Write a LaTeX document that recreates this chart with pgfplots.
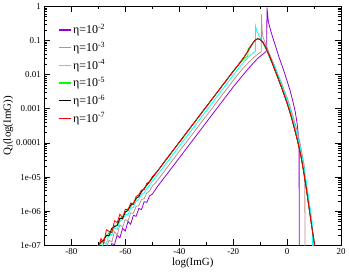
\documentclass[border=0pt]{standalone}
\usepackage{fontspec}
\setmainfont{Liberation Serif}
\usepackage{pgfplots}
\usepackage{pgfplotstable}
\pgfplotsset{compat=1.18}
\definecolor{cviolet}{RGB}{148,0,211}
\definecolor{cbrown}{RGB}{188,143,143}
\definecolor{ccyan}{RGB}{0,255,255}
\definecolor{cgreen}{RGB}{0,255,0}
\definecolor{cred}{RGB}{255,0,0}

% columns: x = log(ImG), ly = log10 of Q_I
\pgfplotstableread{
x ly
-65.5 -7.10
-65 -6.95
-64 -6.98
-63 -6.70
-62 -6.78
-61 -6.50
-60 -6.58
-59 -6.30
-58 -6.38
-57 -6.12
-56 -6.15
-55 -5.92
-54 -5.95
-53 -5.72
-52 -5.74
-51 -5.55
-50 -5.50
-48 -5.27
-45 -4.96
-40 -4.44
-35 -3.92
-30 -3.40
-25 -2.88
-20 -2.36
-17 -2.07
-15 -1.88
-13 -1.70
-11 -1.53
-9 -1.40
-7.6 -1.31
-7.5 -0.03
-7 -0.45
-6 -0.75
-5 -1.00
-4 -1.25
-3 -1.50
-2 -1.72
-1 -1.95
0 -2.20
1 -2.45
2 -2.75
3 -3.10
3.7 -3.45
4.2 -3.85
4.4 -4.00
4.45 -7.30
}\dataA

\pgfplotstableread{
x ly
-67 -7.06
-66 -6.85
-65 -6.90
-64 -6.60
-63 -6.70
-62 -6.40
-61 -6.47
-60 -6.25
-59 -6.28
-58 -6.05
-57 -6.06
-56 -5.86
-55 -5.84
-54 -5.66
-53 -5.63
-52 -5.46
-51 -5.41
-50 -5.27
-48 -5.09
-45 -4.77
-40 -4.25
-35 -3.73
-30 -3.21
-25 -2.69
-20 -2.17
-18 -1.97
-16 -1.78
-14 -1.62
-12 -1.47
-10.5 -1.38
-9.6 -1.33
-9.55 -0.24
-9.3 -0.70
-9 -0.90
-8 -1.10
-7 -1.30
-6 -1.50
-5 -1.68
-4 -1.88
-3 -2.07
-2 -2.27
-1 -2.48
0 -2.68
1 -2.92
2 -3.18
3 -3.45
4 -3.75
5 -4.10
5.8 -4.45
6.5 -4.75
6.6 -7.30
}\dataB

\pgfplotstableread{
x ly
-69 -7.10
-68 -6.91
-67 -6.96
-66 -6.65
-65 -6.70
-64 -6.47
-63 -6.53
-62 -6.29
-61 -6.25
-60 -6.10
-59 -6.10
-58 -5.91
-57 -5.89
-56 -5.71
-55 -5.66
-54 -5.51
-53 -5.47
-52 -5.32
-51 -5.24
-50 -5.12
-48 -4.93
-45 -4.62
-40 -4.10
-35 -3.58
-30 -3.06
-25 -2.54
-20 -2.02
-18 -1.81
-16 -1.63
-14 -1.46
-13 -1.39
-12 -1.33
-11.8 -1.31
-11.75 -0.58
-11.3 -0.72
-10.5 -0.85
-10 -0.92
-9 -1.08
-8 -1.24
-7 -1.42
-6 -1.62
-5 -1.70
-4 -1.90
-3 -2.11
-2 -2.32
-1 -2.53
0 -2.76
1 -3.00
2 -3.26
3 -3.56
4 -3.87
5 -4.21
6 -4.62
7 -5.10
8 -5.63
9 -6.18
9.3 -6.35
9.35 -7.30
}\dataC

\pgfplotstableread{
x ly
-71 -7.10
-70 -7.00
-69 -6.95
-68 -6.80
-67 -6.75
-66 -6.62
-65 -6.60
-64 -6.42
-63 -6.40
-62 -6.25
-61 -6.15
-60 -6.05
-59 -5.92
-58 -5.88
-57 -5.74
-56 -5.66
-55 -5.52
-54 -5.45
-53 -5.32
-52 -5.25
-51 -5.12
-50 -5.03
-48 -4.82
-45 -4.51
-40 -3.99
-35 -3.47
-30 -2.95
-25 -2.43
-20 -1.91
-18 -1.72
-16 -1.53
-15 -1.48
-14.6 -1.46
-14.5 -1.25
-14 -1.20
-13 -1.10
-12 -1.00
-11 -0.95
-10 -0.97
-9 -1.05
-8 -1.20
-7 -1.38
-6 -1.57
-5 -1.78
-4 -1.98
-3 -2.19
-2 -2.40
-1 -2.62
0 -2.85
1 -3.10
2 -3.38
3 -3.68
4 -4.00
5 -4.35
6 -4.80
7 -5.30
8 -5.85
9 -6.40
9.8 -6.80
9.85 -7.30
}\dataD

\pgfplotstableread{
x ly
-70 -7.00
-69 -6.90
-68 -6.85
-67 -6.70
-66 -6.72
-65 -6.50
-64 -6.45
-63 -6.42
-62 -6.20
-61 -6.22
-60 -6.02
-59 -5.98
-58 -5.82
-57 -5.78
-56 -5.62
-55 -5.58
-54 -5.42
-53 -5.34
-52 -5.22
-51 -5.14
-50 -5.02
-48 -4.82
-45 -4.50
-40 -3.98
-35 -3.46
-30 -2.94
-25 -2.42
-20 -1.90
-18 -1.70
-16 -1.49
-15 -1.37
-14 -1.24
-13 -1.11
-12 -1.00
-11 -0.95
-10 -0.97
-9 -1.05
-8 -1.20
-7 -1.38
-6 -1.57
-5 -1.78
-4 -1.98
-3 -2.19
-2 -2.40
-1 -2.62
0 -2.85
1 -3.10
2 -3.38
3 -3.68
4 -4.00
5 -4.35
6 -4.80
7 -5.30
8 -5.85
9 -6.40
10 -6.90
10.5 -7.20
}\dataE

\pgfplotstableread{
x ly
-70 -7.10
-69 -6.80
-68 -6.95
-67 -6.54
-66 -6.59
-65 -6.63
-64 -6.28
-63 -6.33
-62 -6.09
-61 -6.19
-60 -5.94
-59 -5.96
-58 -5.76
-57 -5.80
-56 -5.57
-55 -5.52
-54 -5.38
-53 -5.37
-52 -5.18
-51 -5.13
-50 -4.99
-48 -4.82
-45 -4.50
-40 -3.98
-35 -3.46
-30 -2.94
-25 -2.42
-20 -1.90
-18 -1.70
-16 -1.49
-15 -1.37
-14 -1.24
-13 -1.11
-12 -1.00
-11 -0.95
-10 -0.97
-9 -1.05
-8 -1.20
-7 -1.38
-6 -1.57
-5 -1.78
-4 -1.98
-3 -2.19
-2 -2.40
-1 -2.62
0 -2.85
1 -3.10
2 -3.38
3 -3.68
4 -4.00
5 -4.35
6 -4.80
7 -5.30
8 -5.85
9 -6.40
10 -6.90
10.5 -7.20
}\dataF

\begin{document}
\begin{tikzpicture}
\begin{axis}[
  scale only axis,
  width=298pt, height=240pt,
  xmin=-90, xmax=20,
  ymin=1e-7, ymax=1,
  ymode=log,
  xtick={-80,-60,-40,-20,0,20},
  xticklabels={-80,-60,-40,-20,0,20},
  minor x tick num=1,
  ytick={1e-7,1e-6,1e-5,1e-4,1e-3,1e-2,1e-1,1},
  yticklabels={1e-07,1e-06,1e-05,0.0001,0.001,0.01,0.1,1},
  tick align=inside,
  major tick length=6pt,
  minor tick length=3pt,
  tick style={black, line width=0.6pt},
  axis line style={line width=0.8pt},
  ticklabel style={font=\fontsize{9}{10}\selectfont},
  xlabel={log(ImG)},
  ylabel={Q\textsubscript{I}(log(ImG))},
  label style={font=\fontsize{11}{12}\selectfont},
  xlabel style={yshift=4pt},
  ylabel style={yshift=-4pt},
  legend style={at={(0.035,0.942)}, anchor=north west, draw=none, fill=none,
    font=\fontsize{12}{13}\selectfont, row sep=2.6pt},
  legend cell align=left,
  legend image code/.code={\draw[#1, line width=1.3pt] (0pt,0pt) -- (12pt,0pt);},
  every axis plot/.append style={line width=0.8pt},
]
\addplot[cviolet] table[x=x, y expr={10^(\thisrow{ly})}] {\dataA};
\addlegendentry{η=10\textsuperscript{-2}}
\addplot[cbrown] table[x=x, y expr={10^(\thisrow{ly})}] {\dataB};
\addlegendentry{η=10\textsuperscript{-3}}
\addplot[ccyan] table[x=x, y expr={10^(\thisrow{ly})}] {\dataC};
\addlegendentry{η=10\textsuperscript{-4}}
\addplot[cgreen] table[x=x, y expr={10^(\thisrow{ly})}] {\dataD};
\addlegendentry{η=10\textsuperscript{-5}}
\addplot[black] table[x=x, y expr={10^(\thisrow{ly})}] {\dataE};
\addlegendentry{η=10\textsuperscript{-6}}
\addplot[cred] table[x=x, y expr={10^(\thisrow{ly})}] {\dataF};
\addlegendentry{η=10\textsuperscript{-7}}
\end{axis}
\end{tikzpicture}
\end{document}
